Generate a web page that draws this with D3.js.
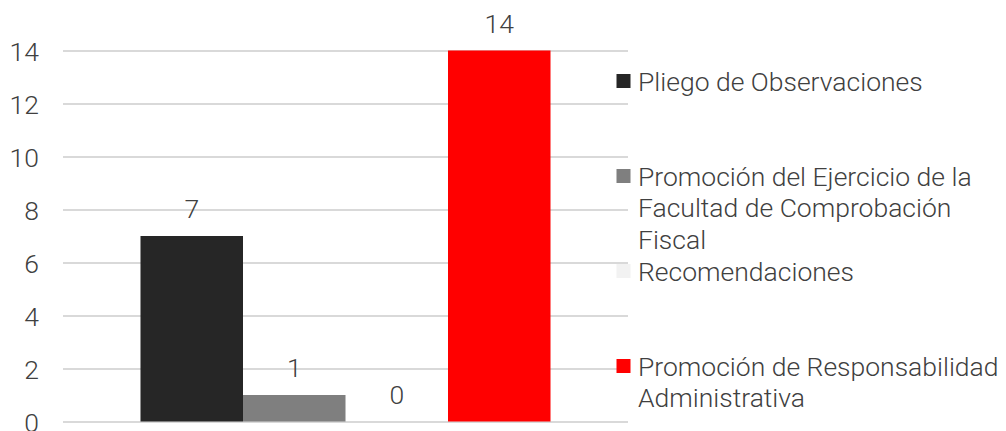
<!DOCTYPE html>
<html><head><meta charset="utf-8">
<script src="https://cdn.jsdelivr.net/npm/d3@7"></script>
<style>
body{margin:0;background:#fff;}
text{font-family:Roboto,sans-serif;font-weight:300;fill:#404040;}
</style></head>
<body><svg id="c" width="1006" height="431"></svg>
<script>
const categories = ["Total"];
const seriesNames = ["Pliego de Observaciones","Promoción del Ejercicio de la Facultad de Comprobación Fiscal","Recomendaciones","Promoción de Responsabilidad Administrativa"];
const seriesValues = [7, 1, 0, 14];
const seriesColors = ["#262626","#7f7f7f","#f2f2f2","#ff0000"];
const yTicks = [0,2,4,6,8,10,12,14];

const svg = d3.select("#c");
const fs = 26.5;
const x0 = d3.scaleBand().domain(categories).range([63, 628]).paddingInner(0).paddingOuter(0.189);
const y = d3.scaleLinear().domain([0,14]).range([421.5, 50.5]);
const band = x0(categories[0]);
const xb = d3.scaleBand().domain(seriesNames).range([band, band + x0.bandwidth()]);

// gridlines
const yAxis = d3.axisLeft(y).tickValues(yTicks).tickSize(-(628-63)).tickFormat(d3.format("d"));
const g = svg.append("g").attr("transform","translate(63,0)").call(yAxis);
g.select(".domain").remove();
g.selectAll(".tick line").attr("stroke","#d9d9d9").attr("stroke-width",2);
g.selectAll(".tick text").attr("x",-24).attr("dy","0.36em").style("font-size",fs+"px").style("font-family","Roboto").style("font-weight",300).attr("fill","#404040");

// bars
const data = seriesNames.map((s,i)=>({s, v:seriesValues[i], c:seriesColors[i]}));
svg.append("g").selectAll("rect").data(data).join("rect")
  .attr("x", d=>xb(d.s)).attr("width", xb.bandwidth())
  .attr("y", d=>y(d.v)).attr("height", d=>y(0)-y(d.v))
  .attr("fill", d=>d.c);

// labels
svg.append("g").selectAll("text").data(data).join("text")
  .attr("x", d=>xb(d.s)+xb.bandwidth()/2)
  .attr("y", d=>y(d.v)-18)
  .attr("text-anchor","middle").style("font-size",fs+"px")
  .text(d=>d.v);

// legend
const leg = svg.append("g");
const maxW = 366;
data.forEach((d,i)=>{
  const cy = 81 + i*95;
  leg.append("rect").attr("x",616.5).attr("y",cy-7).attr("width",14).attr("height",14).attr("fill",d.c);
  const t = leg.append("text").attr("x",638).attr("y",cy+9.5).style("font-size",fs+"px");
  const words = d.s.split(" ");
  let line = [], lineNo = 0;
  let ts = t.append("tspan").attr("x",638).attr("y",cy+9.5);
  words.forEach(w=>{
    line.push(w);
    ts.text(line.join(" "));
    if (ts.node().getComputedTextLength() > maxW && line.length>1){
      line.pop(); ts.text(line.join(" "));
      line=[w]; lineNo++;
      ts = t.append("tspan").attr("x",638).attr("y",cy+9.5+lineNo*31.5).text(w);
    }
  });
});
</script></body></html>
